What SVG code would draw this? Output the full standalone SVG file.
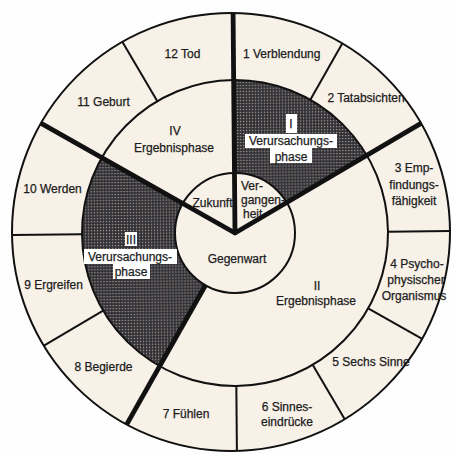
<svg xmlns="http://www.w3.org/2000/svg" width="452" height="454" viewBox="0 0 452 454">
  <defs>
    <pattern id="hatch" width="3" height="3" patternUnits="userSpaceOnUse">
      <rect width="3" height="3" fill="#2f2e34"/>
      <rect x="0.9" y="0.9" width="1.3" height="1.3" fill="#a8a196"/>
    </pattern>
    <clipPath id="outerClip">
      <circle cx="231" cy="232" r="219"/>
    </clipPath>
    <style>
      text { font-family: "Liberation Sans", Arial, sans-serif; font-size: 12px; fill: #1c1c1c; stroke: #1c1c1c; stroke-width: 0.25; }
      .c { text-anchor: middle; }
      .ring { fill: none; stroke: #111; stroke-width: 2; }
      .thin { stroke: #111; stroke-width: 2; fill: none; }
      .thick { stroke: #111; stroke-width: 4.8; fill: none; stroke-linecap: butt; }
      .lbl { fill: #ffffff; }
    </style>
  </defs>

  <rect width="452" height="454" fill="#fefefe"/>

  <g id="disc">
    <circle cx="231" cy="232" r="219" fill="#f7f1e8"/>
  </g>

  <g transform="rotate(-0.5 235 233)">
    <g id="phase-I">
      <path d="M235,80 A153,153 0 0 1 367.5,156.5 L286.96,203 A60,60 0 0 0 235,173 Z" fill="url(#hatch)"/>
    </g>
    <g id="phase-III">
      <path d="M102.5,156.5 A153,153 0 0 0 158.5,365.5 L205,285 A60,60 0 0 1 183.04,203 Z" fill="url(#hatch)"/>
    </g>

    <g id="rings">
      <circle class="ring" cx="235" cy="233" r="153"/>
      <circle class="ring" cx="235" cy="233" r="60"/>
    </g>

    <g id="connectors" clip-path="url(#outerClip)">
      <line class="thin" x1="388" y1="233" x2="475" y2="233"/>
      <line class="thin" x1="311.5" y1="100.5" x2="355" y2="25.2"/>
      <line class="thin" x1="158.5" y1="100.5" x2="115" y2="25.2"/>
      <line class="thin" x1="82" y1="233" x2="-5" y2="233"/>
      <line class="thin" x1="102.5" y1="309.5" x2="27.2" y2="353"/>
      <line class="thin" x1="235" y1="386" x2="235" y2="473"/>
      <line class="thin" x1="311.5" y1="365.5" x2="355" y2="440.8"/>
      <line class="thin" x1="367.5" y1="309.5" x2="442.8" y2="353"/>
      <line class="thick" x1="235" y1="233" x2="235" y2="-7"/>
      <line class="thick" x1="235" y1="233" x2="442.8" y2="113"/>
      <line class="thick" x1="235" y1="233" x2="27.2" y2="113"/>
      <line class="thick" x1="205" y1="285" x2="115" y2="440.8"/>
      <circle cx="235" cy="233" r="2.4" fill="#111"/>
    </g>
  </g>

  <g id="outer-ring">
    <circle class="ring" cx="231" cy="232" r="219"/>
  </g>

  <g id="seg-1"><text x="243" y="58">1 Verblendung</text></g>
  <g id="seg-2"><text class="c" x="366" y="102">2 Tatabsichten</text></g>
  <g id="seg-3">
    <text class="c" x="414" y="172">3 Emp-</text>
    <text class="c" x="414" y="189">findungs-</text>
    <text class="c" x="414" y="205">fähigkeit</text>
  </g>
  <g id="seg-4">
    <text class="c" x="417" y="268">4 Psycho-</text>
    <text class="c" x="416" y="284">physischer</text>
    <text class="c" x="414" y="300">Organismus</text>
  </g>
  <g id="seg-5"><text class="c" x="371" y="366">5 Sechs Sinne</text></g>
  <g id="seg-6">
    <text class="c" x="287" y="411">6 Sinnes-</text>
    <text class="c" x="287" y="426">eindrücke</text>
  </g>
  <g id="seg-7"><text class="c" x="186" y="418">7 Fühlen</text></g>
  <g id="seg-8"><text class="c" x="103.5" y="371">8 Begierde</text></g>
  <g id="seg-9"><text class="c" x="53.5" y="289">9 Ergreifen</text></g>
  <g id="seg-10"><text class="c" x="52.5" y="193">10 Werden</text></g>
  <g id="seg-11"><text class="c" x="103.5" y="106">11 Geburt</text></g>
  <g id="seg-12"><text class="c" x="182.5" y="58">12 Tod</text></g>

  <g id="phase-I-label">
    <rect class="lbl" x="286" y="114" width="11" height="19"/>
    <rect class="lbl" x="245" y="134" width="92" height="14"/>
    <rect class="lbl" x="270" y="148" width="42" height="15"/>
    <text class="c" x="291" y="128">I</text>
    <text class="c" x="291" y="145">Verursachungs-</text>
    <text class="c" x="291" y="161">phase</text>
  </g>
  <g id="phase-II-label">
    <text class="c" x="317" y="290">II</text>
    <text class="c" x="316" y="305">Ergebnisphase</text>
  </g>
  <g id="phase-III-label">
    <rect class="lbl" x="125" y="232" width="12" height="14"/>
    <rect class="lbl" x="84" y="249" width="93" height="15"/>
    <rect class="lbl" x="113" y="264" width="37" height="15"/>
    <text class="c" x="131" y="244">III</text>
    <text class="c" x="130" y="261">Verursachungs-</text>
    <text class="c" x="131" y="276">phase</text>
  </g>
  <g id="phase-IV-label">
    <text class="c" x="175" y="135">IV</text>
    <text class="c" x="174" y="152">Ergebnisphase</text>
  </g>

  <g id="zukunft"><text class="c" x="212.5" y="207">Zukunft</text></g>
  <g id="vergangenheit">
    <text x="241" y="190">Ver-</text>
    <text x="241" y="204">gangen-</text>
    <text x="243" y="218">heit</text>
  </g>
  <g id="gegenwart"><text class="c" x="237" y="263">Gegenwart</text></g>
</svg>
